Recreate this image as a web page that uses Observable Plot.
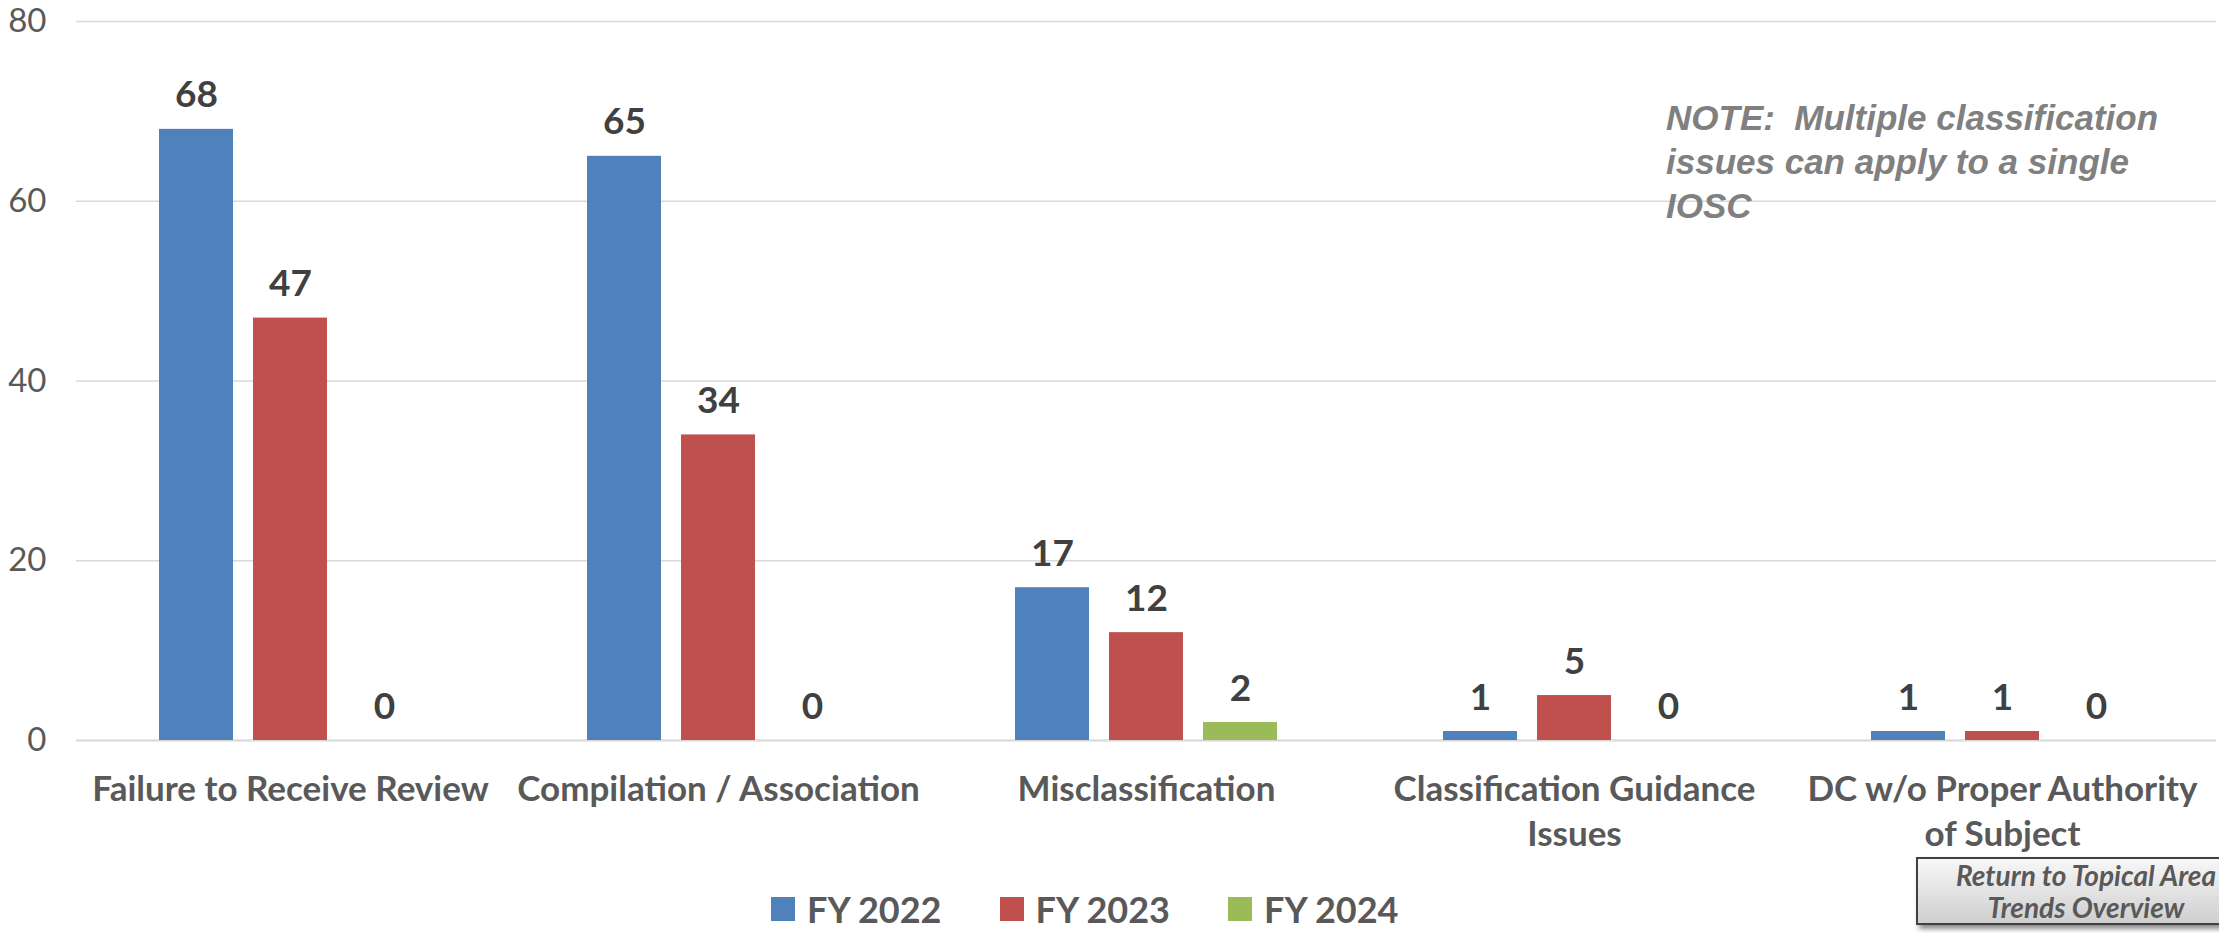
<!DOCTYPE html>
<html>
<head>
<meta charset="utf-8">
<script src="https://cdn.jsdelivr.net/npm/d3@7"></script>
<script src="https://cdn.jsdelivr.net/npm/@observablehq/plot@0.6"></script>
<style>
  html, body { margin: 0; padding: 0; background: #fff; overflow: hidden; }
  #wrap { position: relative; width: 2219px; height: 933px; overflow: hidden; font-family: Lato, "Open Sans", sans-serif; }
  #note { position: absolute; left: 1666px; top: 96px; font-family: "Liberation Sans", Arial, sans-serif; font-weight: bold; font-style: italic; font-size: 35px; line-height: 44px; color: #808080; white-space: pre; }
  #legend { position: absolute; left: 771px; top: 887px; display: flex; align-items: center; height: 44px; }
  .item { display: flex; align-items: center; margin-right: 58px; }
  .sw { width: 24px; height: 24px; margin-right: 12px; }
  .lbl { font-family: Lato, sans-serif; font-weight: bold; font-size: 36px; line-height: 44px; color: #595959; }
  #btn { position: absolute; left: 1916px; top: 857px; width: 338px; height: 64px; border: 2px solid #404040; background: linear-gradient(#f7f7f7, #cfcfcf); box-shadow: 3px 4px 5px rgba(0,0,0,0.45); font-family: Lato, sans-serif; font-weight: bold; font-style: italic; font-size: 28px; line-height: 32px; color: #595959; }
  #btn div { width: 296px; margin-left: 20px; text-align: center; white-space: nowrap; }
</style>
</head>
<body>
<div id="wrap">
  <div id="chart"></div>
  <div id="note"></div>
  <div id="legend"></div>
  <div id="btn"></div>
</div>
<script>
const categories = ["Failure to Receive Review", "Compilation / Association", "Misclassification", "Classification Guidance Issues", "DC w/o Proper Authority of Subject"];
const categoryLabels = ["Failure to Receive Review", "Compilation / Association", "Misclassification", "Classification Guidance\nIssues", "DC w/o Proper Authority\nof Subject"];
const series = ["FY 2022", "FY 2023", "FY 2024"];
const fy2022 = [68, 65, 17, 1, 1];
const fy2023 = [47, 34, 12, 5, 1];
const fy2024 = [0, 0, 2, 0, 0];
const yTicks = [0, 20, 40, 60, 80];
const colors = ["#4F81BD", "#C0504D", "#9BBB59"];
const noteText = "NOTE:\u00a0 Multiple classification\nissues can apply to a single\nIOSC";
const buttonText = ["Return to Topical Area", "Trends Overview"];

const seriesValues = [fy2022, fy2023, fy2024];
const data = [];
categories.forEach((c, i) => {
  series.forEach((s, j) => data.push({category: c, series: s, value: seriesValues[j][i]}));
});
const labelOf = new Map(categories.map((c, i) => [c, categoryLabels[i]]));

const chart = Plot.plot({
  width: 2219,
  height: 860,
  marginLeft: 75,
  marginRight: 3,
  marginTop: 21,
  marginBottom: 120,
  style: {fontFamily: "Lato, sans-serif", background: "white", overflow: "visible"},
  fx: {domain: categories, padding: 0, axis: null},
  x: {domain: series, axis: null, paddingInner: 0.21, paddingOuter: 0.862},
  y: {domain: [0, 80], axis: null},
  color: {domain: series, range: colors},
  marks: [
    Plot.gridY(yTicks, {stroke: "#d9d9d9", strokeOpacity: 1, strokeWidth: 1.6}),
    Plot.ruleY([0], {stroke: "#d9d9d9", strokeWidth: 2}),
    Plot.axisY(yTicks, {tickSize: 0, tickPadding: 30, fontSize: 33, fill: "#595959", label: null, tickFormat: d => String(d)}),
    Plot.axisFx({anchor: "bottom", tickSize: 0, tickPadding: 29, fontSize: 35, fontWeight: "bold", fill: "#595959", lineHeight: 1.27, label: null, tickFormat: d => labelOf.get(d)}),
    Plot.barY(data, {fx: "category", x: "series", y: "value", fill: "series"}),
    Plot.text(data, {fx: "category", x: "series", y: "value", text: d => String(d.value), dy: -22, lineAnchor: "bottom", fontSize: 37, fontWeight: "bold", fill: "#404040"})
  ]
});
document.getElementById("chart").appendChild(chart);

document.getElementById("note").textContent = noteText;

const legend = document.getElementById("legend");
series.forEach((s, j) => {
  const item = document.createElement("div");
  item.className = "item";
  const sw = document.createElement("div");
  sw.className = "sw";
  sw.style.background = colors[j];
  const lbl = document.createElement("div");
  lbl.className = "lbl";
  lbl.textContent = s;
  item.appendChild(sw);
  item.appendChild(lbl);
  legend.appendChild(item);
});

const btn = document.getElementById("btn");
buttonText.forEach(t => {
  const line = document.createElement("div");
  line.textContent = t;
  btn.appendChild(line);
});
</script>
</body>
</html>
